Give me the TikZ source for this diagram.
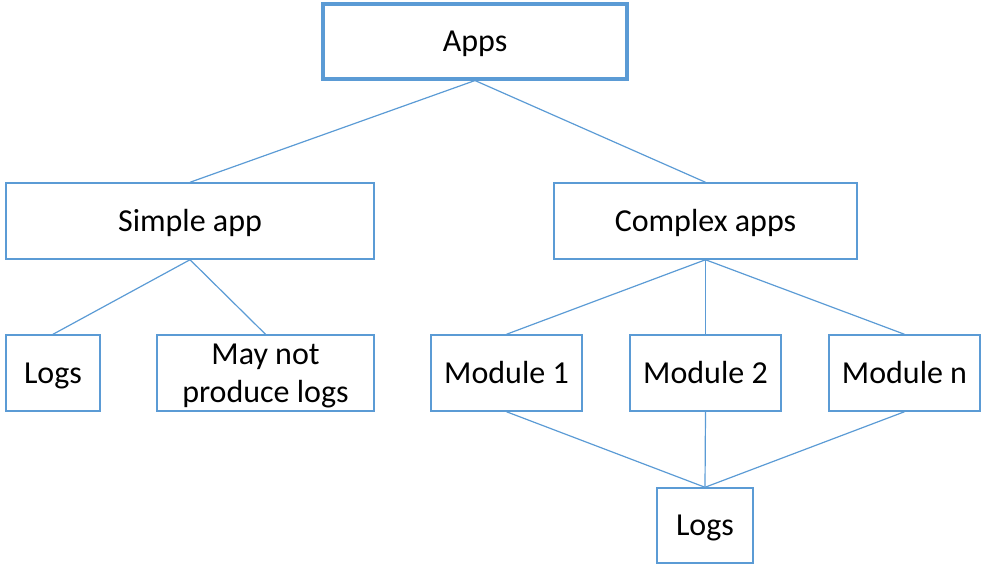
\documentclass[tikz,border=0pt]{standalone}
\usepackage{fontspec}
\setmainfont{Carlito}
\definecolor{boxblue}{HTML}{5B9BD5}
\tikzset{
  px/.style={x=0.75pt,y=-0.75pt},
  box/.style={draw=boxblue,line width=1.1pt,fill=white,rectangle,inner sep=0pt,
    font=\fontsize{24pt}{28.5pt}\selectfont,text=black,
    text height=15.5pt,text depth=0pt},
  twoline/.style={align=center,text height=44pt,text depth=0pt},
  topbox/.style={box,line width=2.3pt},
  link/.style={draw=boxblue,line width=0.9pt}
}
\begin{document}
\begin{tikzpicture}[px]
\useasboundingbox (0,0) rectangle (981,565);
% root of the tree
\node[topbox,minimum width=228pt,minimum height=56.25pt] (apps) at (475,41.5) {Apps};
% second level
\node[box,minimum width=276pt,minimum height=57pt] (simple) at (190,221) {Simple app};
\node[box,minimum width=227.25pt,minimum height=57pt] (complex) at (705.5,221) {Complex apps};
% children of the simple app
\node[box,minimum width=70.5pt,minimum height=57pt] (logsA) at (53,373) {Logs};
\node[box,twoline,minimum width=162.75pt,minimum height=57pt] (nologs) at (265.5,373) {May not\\produce logs};
% modules of the complex app
\node[box,minimum width=113.25pt,minimum height=57pt] (mod1) at (506.5,373) {Module 1};
\node[box,minimum width=113.25pt,minimum height=57pt] (mod2) at (705.5,373) {Module 2};
\node[box,minimum width=113.25pt,minimum height=57pt] (modn) at (904.5,373) {Module n};
% shared log sink
\node[box,minimum width=72pt,minimum height=56.25pt] (logsB) at (705,525.5) {Logs};
% connectors
\draw[link] (apps.south) -- (simple.north);
\draw[link] (apps.south) -- (complex.north);
\draw[link] (simple.south) -- (logsA.north);
\draw[link] (simple.south) -- (nologs.north);
\draw[link] (complex.south) -- (mod1.north);
\draw[link] (complex.south) -- (mod2.north);
\draw[link] (complex.south) -- (modn.north);
\draw[link] (mod1.south) -- (logsB.north);
\draw[link] (mod2.south) -- (logsB.north);
\draw[link] (modn.south) -- (logsB.north);
\end{tikzpicture}
\end{document}
